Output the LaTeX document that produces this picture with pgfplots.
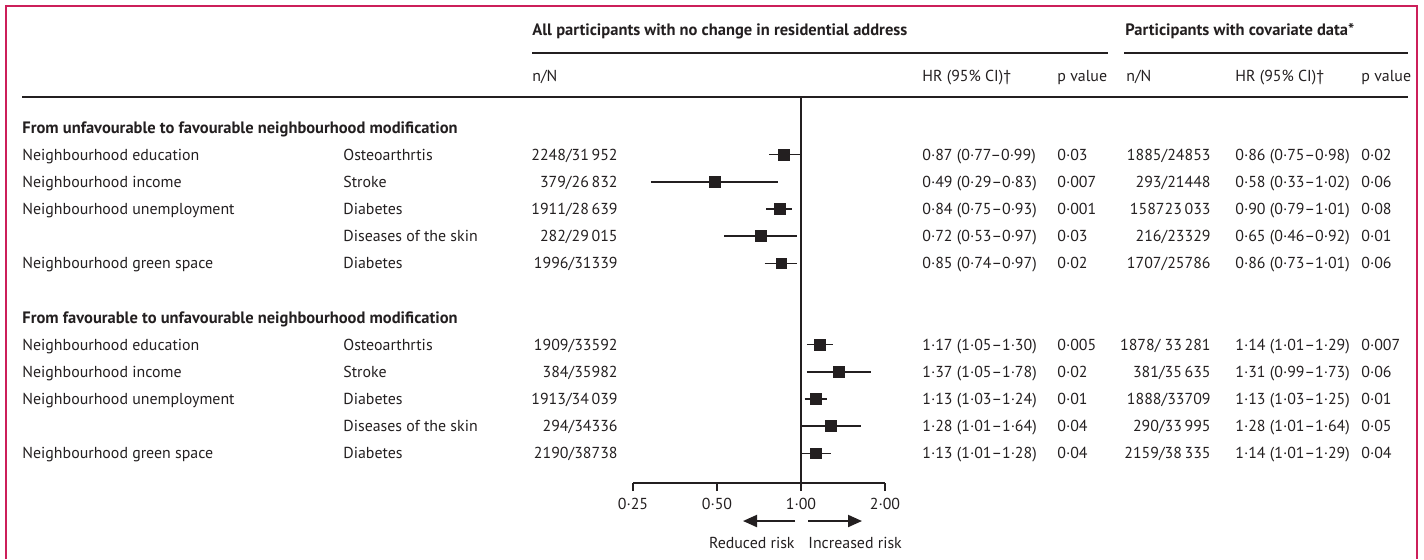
\documentclass[border=0pt]{standalone}
\usepackage{pgfplots}
\pgfplotsset{compat=1.18}
\usepackage{fontspec}
\setmainfont{PT Sans}
\usetikzlibrary{arrows.meta}
\definecolor{frame}{RGB}{204,31,90}
\definecolor{ink}{RGB}{35,31,32}
\newcommand\fs{\fontsize{7.95}{9}\selectfont}
\newcommand\fb{\fontsize{8.25}{9}\selectfont\bfseries}
\newcommand\row[9]{%
 \pgfmathsetmacro\yb{133+27.15*#1}%
 \node[t] at (22,\yb) {#2};
 \node[t] at (343,\yb) {#3};
 \node[tr] at (618,\yb) {#4};
 \node[t] at (922,\yb) {#5};
 \node[t] at (1057,\yb) {#6};
 \node[tr] at (1211,\yb) {#7};
 \node[t] at (1235,\yb) {#8};
 \node[t] at (1361,\yb) {#9};
}
\begin{document}
\begin{tikzpicture}
\begin{scope}[x=0.5pt,y=-0.5pt,
  t/.style={anchor=base west,inner sep=0pt,text=ink,font=\fs},
  tr/.style={anchor=base east,inner sep=0pt,text=ink,font=\fs}]
\path[use as bounding box] (0,0) rectangle (1424,559);
\draw[frame,line width=1pt] (6,559) -- (6,6) -- (1417,6) -- (1417,559);
% headers
\node[t,font=\fb] at (532,35.5) {All participants with no change in residential address};
\node[t,font=\fb] at (1125,35.5) {Participants with covariate data*};
\draw[ink,line width=0.8pt] (532,53) -- (1108,53);
\draw[ink,line width=0.8pt] (1124,53) -- (1408,53);
\node[t] at (532,81.5) {n/N};
\node[t] at (922,81.5) {HR (95\% CI)\textdagger};
\node[t] at (1057,81.5) {p value};
\node[t] at (1126,81.5) {n/N};
\node[t] at (1235,81.5) {HR (95\% CI)\textdagger};
\node[t] at (1361,81.5) {p value};
\draw[ink,line width=0.8pt] (22,97) -- (1408,97);
% sections
\node[t,font=\fb] at (22,133) {From unfavourable to favourable neighbourhood modification};
\row{1}{Neighbourhood education}{Osteoarthrtis}{2248/31\,952}{0·87 (0·77–0·99)}{0·03}{1885/24853}{0·86 (0·75–0·98)}{0·02}
\row{2}{Neighbourhood income}{Stroke}{379/26\,832}{0·49 (0·29–0·83)}{0·007}{293/21448}{0·58 (0·33–1·02)}{0·06}
\row{3}{Neighbourhood unemployment}{Diabetes}{1911/28\,639}{0·84 (0·75–0·93)}{0·001}{158723\,033}{0·90 (0·79–1·01)}{0·08}
\row{4}{}{Diseases of the skin}{282/29\,015}{0·72 (0·53–0·97)}{0·03}{216/23329}{0·65 (0·46–0·92)}{0·01}
\row{5}{Neighbourhood green space}{Diabetes}{1996/31339}{0·85 (0·74–0·97)}{0·02}{1707/25786}{0·86 (0·73–1·01)}{0·06}
\node[t,font=\fb] at (22,323.05) {From favourable to unfavourable neighbourhood modification};
\row{8}{Neighbourhood education}{Osteoarthrtis}{1909/33592}{1·17 (1·05–1·30)}{0·005}{1878/ 33\,281}{1·14 (1·01–1·29)}{0·007}
\row{9}{Neighbourhood income}{Stroke}{384/35982}{1·37 (1·05–1·78)}{0·02}{381/35\,635}{1·31 (0·99–1·73)}{0·06}
\row{10}{Neighbourhood unemployment}{Diabetes}{1913/34\,039}{1·13 (1·03–1·24)}{0·01}{1888/33709}{1·13 (1·03–1·25)}{0·01}
\row{11}{}{Diseases of the skin}{294/34336}{1·28 (1·01–1·64)}{0·04}{290/33\,995}{1·28 (1·01–1·64)}{0·05}
\row{12}{Neighbourhood green space}{Diabetes}{2190/38738}{1·13 (1·01–1·28)}{0·04}{2159/38\,335}{1·14 (1·01–1·29)}{0·04}
% arrows
\draw[ink,line width=1pt,-{Triangle[length=7pt,width=6pt]}] (795,521) -- (743,521);
\draw[ink,line width=1pt,-{Triangle[length=7pt,width=6pt]}] (808,521) -- (862,521);
\node[tr] at (795,548.5) {Reduced risk};
\node[t] at (808,548.5) {Increased risk};
\end{scope}
\begin{axis}[
  at={(316.5pt,-241.5pt)}, anchor=south west,
  scale only axis, width=126pt, height=193pt,
  xmode=log, log basis x=2,
  xmin=0.25, xmax=2,
  ymin=-1.1234, ymax=13.094, y dir=reverse,
  axis x line*=bottom, axis y line=none,
  axis line style={ink,line width=0.8pt,-},
  xtick={0.25,0.5,1,2},
  xticklabels={0·25,0·50,1·00,2·00},
  minor xtick={},
  tick align=outside, major tick length=4pt,
  tick style={ink,line width=0.8pt},
  xticklabel style={font=\fs,text=ink},
  clip=false,
]
\addplot[ink,line width=0.8pt] coordinates {(1,-1.1234) (1,13.094)};
\addplot[ink,line width=0.7pt] coordinates {(0.77,1) (0.99,1)};
\addplot[ink,line width=0.7pt] coordinates {(0.29,2) (0.83,2)};
\addplot[ink,line width=0.7pt] coordinates {(0.75,3) (0.93,3)};
\addplot[ink,line width=0.7pt] coordinates {(0.53,4) (0.97,4)};
\addplot[ink,line width=0.7pt] coordinates {(0.74,5) (0.97,5)};
\addplot[ink,line width=0.7pt] coordinates {(1.05,8) (1.30,8)};
\addplot[ink,line width=0.7pt] coordinates {(1.05,9) (1.78,9)};
\addplot[ink,line width=0.7pt] coordinates {(1.03,10) (1.24,10)};
\addplot[ink,line width=0.7pt] coordinates {(1.01,11) (1.64,11)};
\addplot[ink,line width=0.7pt] coordinates {(1.01,12) (1.28,12)};
\addplot[only marks,mark=square*,mark size=2.7pt,mark options={fill=ink,draw=ink,line width=0.3pt}]
 coordinates {(0.87,1) (0.49,2) (0.84,3) (0.72,4) (0.85,5) (1.17,8) (1.37,9) (1.13,10) (1.28,11) (1.13,12)};
\end{axis}
\end{tikzpicture}
\end{document}
